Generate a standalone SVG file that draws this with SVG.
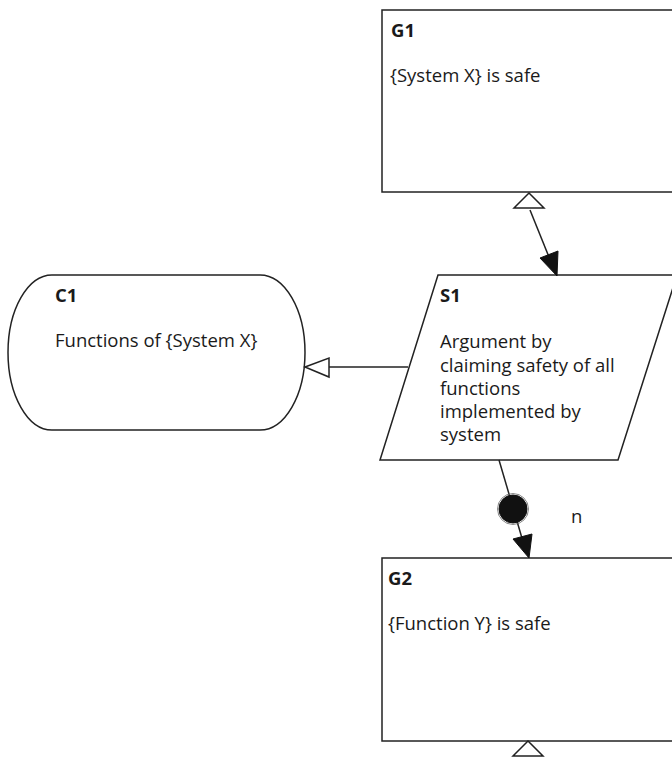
<svg xmlns="http://www.w3.org/2000/svg" width="672" height="757" viewBox="0 0 672 757">
<style>
.shape{fill:#fff;stroke:#222;stroke-width:1.5}
.t{font-family:"Open Sans","Noto Sans",sans-serif;font-size:18.5px;fill:#1a1a1a}
.b{font-weight:bold}
.line{stroke:#222;stroke-width:1.5;fill:none}
.hollow{fill:#fff;stroke:#222;stroke-width:1.5}
.solid{fill:#111;stroke:#111;stroke-width:1}
</style>
<rect width="672" height="757" fill="#fff"/>
<g id="G1">
<rect class="shape" x="382" y="10" width="310" height="182"/>
<text class="t b" x="391" y="37">G1</text>
<text class="t" x="390" y="82">{System X} is safe</text>
</g>
<g id="S1">
<path class="shape" d="M438,275 L677,275 L618,460 L380,460 Z"/>
<text class="t b" x="440" y="302">S1</text>
<text class="t" x="440" y="348">Argument by</text>
<text class="t" x="440" y="372">claiming safety of all</text>
<text class="t" x="440" y="395">functions</text>
<text class="t" x="440" y="418">implemented by</text>
<text class="t" x="440" y="441">system</text>
</g>
<g id="C1">
<path class="shape" d="M52,275 L260,275 A45,77.5 0 0 1 260,430 L52,430 A44,77.5 0 0 1 52,275 Z"/>
<text class="t b" x="55" y="302">C1</text>
<text class="t" x="55" y="347">Functions of {System X}</text>
</g>
<g id="G2">
<rect class="shape" x="382" y="558" width="310" height="183"/>
<text class="t b" x="388" y="585">G2</text>
<text class="t" x="388" y="630">{Function Y} is safe</text>
</g>
<g id="connectors">
<polygon class="hollow" points="529,193 544,208 514,208"/>
<line class="line" x1="530" y1="210" x2="551" y2="262"/>
<polygon class="solid" points="557,276 540,258 558,251"/>
<line class="line" x1="408" y1="367" x2="329" y2="367"/>
<polygon class="hollow" points="305,367 329,358 329,377"/>
<line class="line" x1="499" y1="460" x2="524" y2="545"/>
<circle cx="513" cy="509" r="14" fill="#111" stroke="#111" stroke-width="1"/>
<circle cx="513" cy="509" r="15.5" fill="none" stroke="#666" stroke-width="0.8"/>
<polygon class="solid" points="529,558 513,539 532,534"/>
<text class="t" x="571" y="523">n</text>
<polygon class="hollow" points="528,741 543,756 513,756"/>
</g>
</svg>
